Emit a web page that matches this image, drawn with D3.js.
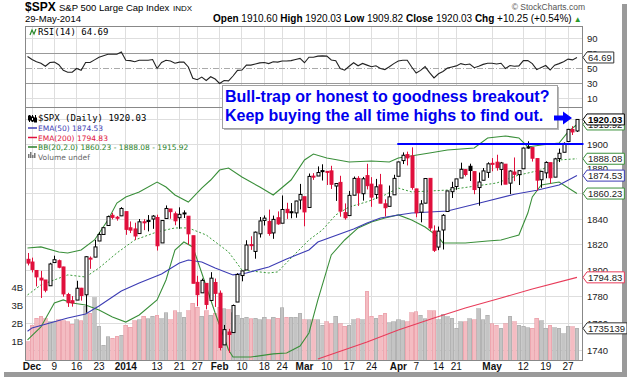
<!DOCTYPE html>
<html>
<head>
<meta charset="utf-8">
<script src="https://cdn.jsdelivr.net/npm/d3@7"></script>
<style>
  body { margin: 0; background: #fff; }
  svg { display: block; font-family: "Liberation Sans", Arial, sans-serif; }
</style>
</head>
<body>
<div id="chart"></div>
<script>
// trading days shown on the chart
var dates = ["2013-11-29",
  "2013-12-02","2013-12-03","2013-12-04","2013-12-05","2013-12-06","2013-12-09","2013-12-10","2013-12-11","2013-12-12","2013-12-13",
  "2013-12-16","2013-12-17","2013-12-18","2013-12-19","2013-12-20","2013-12-23","2013-12-24","2013-12-26","2013-12-27","2013-12-30","2013-12-31",
  "2014-01-02","2014-01-03","2014-01-06","2014-01-07","2014-01-08","2014-01-09","2014-01-10","2014-01-13","2014-01-14","2014-01-15","2014-01-16","2014-01-17",
  "2014-01-21","2014-01-22","2014-01-23","2014-01-24","2014-01-27","2014-01-28","2014-01-29","2014-01-30","2014-01-31",
  "2014-02-03","2014-02-04","2014-02-05","2014-02-06","2014-02-07","2014-02-10","2014-02-11","2014-02-12","2014-02-13","2014-02-14",
  "2014-02-18","2014-02-19","2014-02-20","2014-02-21","2014-02-24","2014-02-25","2014-02-26","2014-02-27","2014-02-28",
  "2014-03-03","2014-03-04","2014-03-05","2014-03-06","2014-03-07","2014-03-10","2014-03-11","2014-03-12","2014-03-13","2014-03-14",
  "2014-03-17","2014-03-18","2014-03-19","2014-03-20","2014-03-21","2014-03-24","2014-03-25","2014-03-26","2014-03-27","2014-03-28",
  "2014-03-31","2014-04-01","2014-04-02","2014-04-03","2014-04-04","2014-04-07","2014-04-08","2014-04-09","2014-04-10","2014-04-11",
  "2014-04-14","2014-04-15","2014-04-16","2014-04-17","2014-04-21","2014-04-22","2014-04-23","2014-04-24","2014-04-25",
  "2014-04-28","2014-04-29","2014-04-30","2014-05-01","2014-05-02","2014-05-05","2014-05-06","2014-05-07","2014-05-08","2014-05-09",
  "2014-05-12","2014-05-13","2014-05-14","2014-05-15","2014-05-16","2014-05-19","2014-05-20","2014-05-21","2014-05-22","2014-05-23",
  "2014-05-27","2014-05-28","2014-05-29"];

var open = [1808.7,
  1806.6,1800.1,1794.2,1792.8,1788.4,1806.2,1807.6,1802.8,1781.7,1777.0,
  1777.5,1786.5,1781.5,1809.0,1810.4,1822.9,1828.0,1835.0,1843.0,1841.5,1842.6,
  1845.9,1833.2,1832.3,1828.7,1837.9,1839.0,1840.1,1841.3,1821.4,1840.5,1848.0,1844.2,
  1841.1,1844.7,1842.3,1827.0,1791.0,1783.0,1790.2,1777.2,1790.9,
  1782.7,1743.8,1753.4,1753.0,1776.0,1796.2,1800.5,1820.1,1814.8,1828.5,
  1839.0,1838.2,1829.2,1841.1,1836.8,1847.7,1845.8,1844.9,1855.1,
  1857.7,1849.2,1874.1,1874.2,1878.5,1877.9,1878.3,1866.2,1869.1,1845.1,
  1842.8,1858.9,1872.3,1860.1,1874.5,1867.7,1859.5,1867.1,1852.1,1850.1,
  1859.2,1874.0,1886.6,1891.4,1890.3,1863.9,1845.5,1852.6,1872.3,1830.7,
  1818.2,1831.5,1846.0,1861.7,1865.8,1872.6,1879.3,1882.0,1877.7,
  1865.0,1870.8,1877.1,1884.4,1885.3,1879.5,1883.7,1868.5,1877.4,1875.3,
  1880.0,1896.8,1897.1,1888.2,1871.2,1876.7,1884.9,1873.3,1888.2,1893.3,
  1902.0,1911.8,1910.6];
var high = [1813.6,
  1810.0,1800.1,1799.8,1792.8,1806.0,1811.5,1808.5,1803.0,1783.0,1780.6,
  1792.2,1786.8,1811.1,1810.9,1823.8,1829.8,1833.3,1842.8,1844.9,1842.5,1849.4,
  1845.9,1838.2,1837.2,1840.1,1840.0,1843.2,1843.2,1843.5,1839.3,1850.8,1848.0,1846.0,
  1849.3,1846.9,1842.3,1827.0,1796.0,1793.9,1790.2,1798.8,1793.9,
  1784.8,1758.7,1755.8,1774.1,1798.0,1799.9,1823.5,1826.6,1830.3,1841.7,
  1842.9,1847.5,1842.8,1846.1,1858.7,1852.9,1852.7,1854.5,1867.9,
  1857.7,1876.2,1876.5,1881.9,1883.6,1877.9,1882.4,1868.4,1874.4,1852.4,
  1862.3,1873.8,1874.1,1873.5,1884.0,1873.3,1871.9,1875.9,1855.6,1866.6,
  1875.2,1885.8,1893.2,1893.8,1897.3,1864.0,1855.0,1872.4,1872.5,1835.1,
  1834.2,1844.0,1862.3,1869.6,1871.9,1884.9,1879.8,1884.1,1877.7,
  1877.0,1880.6,1885.2,1888.6,1891.3,1885.5,1883.7,1878.8,1889.1,1878.6,
  1897.1,1902.2,1897.1,1888.2,1878.3,1886.0,1884.9,1888.8,1896.3,1901.3,
  1912.3,1914.5,1920.03];
var low = [1804.0,
  1798.6,1787.9,1779.1,1783.4,1788.4,1806.2,1801.8,1780.1,1772.3,1772.5,
  1777.5,1777.1,1768.0,1801.4,1810.3,1822.9,1828.0,1835.0,1839.8,1838.8,1842.4,
  1827.7,1829.1,1823.7,1828.7,1831.4,1830.4,1832.4,1815.5,1821.4,1840.5,1840.3,1835.2,
  1832.4,1840.9,1820.1,1790.3,1772.9,1783.0,1770.5,1777.2,1772.3,
  1739.7,1743.8,1737.9,1753.0,1776.0,1791.8,1800.4,1816.0,1809.2,1825.6,
  1835.0,1827.0,1824.6,1835.6,1836.8,1840.2,1840.7,1841.1,1847.7,
  1834.4,1849.2,1871.1,1874.2,1870.6,1867.0,1863.9,1854.4,1841.9,1839.6,
  1842.8,1858.9,1850.4,1854.6,1863.5,1849.7,1856.0,1852.6,1842.1,1850.1,
  1859.2,1874.0,1883.8,1882.7,1863.3,1841.5,1837.5,1852.4,1830.9,1814.4,
  1815.8,1816.3,1846.0,1856.7,1863.2,1872.6,1873.9,1870.2,1859.7,
  1850.6,1870.8,1872.7,1878.0,1878.5,1866.8,1867.7,1859.8,1870.1,1867.0,
  1880.0,1896.1,1885.8,1862.4,1864.8,1872.4,1868.1,1873.3,1885.4,1893.3,
  1902.0,1907.3,1909.82];
var close = [1805.8,
  1800.9,1795.2,1792.8,1785.0,1805.1,1808.4,1802.6,1782.2,1775.5,1775.3,
  1786.5,1781.0,1810.7,1809.6,1818.3,1828.0,1833.3,1842.0,1841.4,1841.1,1848.4,
  1832.0,1831.4,1826.8,1837.9,1837.5,1838.1,1842.4,1819.2,1838.9,1848.4,1845.9,1838.7,
  1843.8,1844.9,1828.5,1790.3,1781.6,1792.5,1774.2,1794.2,1782.6,
  1741.9,1755.2,1751.6,1773.4,1797.0,1799.8,1819.8,1819.3,1829.8,1838.6,
  1840.8,1828.8,1839.8,1836.3,1847.6,1845.1,1845.2,1854.3,1859.5,
  1845.7,1873.9,1873.8,1877.0,1878.0,1877.2,1867.6,1868.2,1846.3,1841.1,
  1858.8,1872.3,1860.8,1872.0,1866.5,1857.4,1865.6,1852.6,1849.0,1857.6,
  1872.3,1885.5,1890.9,1888.8,1865.1,1845.0,1852.0,1872.2,1833.1,1815.7,
  1830.6,1843.0,1862.3,1864.9,1871.9,1879.6,1875.4,1878.6,1863.4,
  1869.4,1878.3,1884.0,1883.7,1881.1,1884.7,1867.7,1878.2,1875.6,1878.5,
  1896.7,1897.5,1888.5,1870.9,1877.9,1885.1,1872.8,1888.0,1892.5,1900.5,
  1911.9,1909.8,1920.03];
var prevClose = 1807.2;   // close before the first bar

// volume, billions of shares
var volume = [1.0,
  1.9,2.3,2.4,2.27,2.1,2.1,2.2,2.15,2.1,1.95,
  2.2,2.15,2.95,2.55,3.4,1.85,0.8,1.27,1.2,1.3,1.35,
  1.9,1.8,2.15,2.2,2.4,2.27,2.4,2.45,2.27,2.6,2.2,2.7,
  2.6,2.35,2.7,3.1,2.9,2.4,2.7,2.45,2.55,
  2.9,2.8,2.75,2.6,2.45,2.3,2.35,2.27,2.3,2.2,
  2.35,2.2,2.35,2.3,2.85,2.35,2.35,2.35,2.55,
  2.2,2.2,2.2,2.2,1.9,2.1,2.0,2.4,2.0,1.85,
  1.9,2.2,2.27,2.2,3.78,2.4,2.3,2.45,2.55,2.04,
  2.1,2.2,2.15,2.1,2.6,2.65,2.45,2.27,2.7,2.7,
  2.2,2.5,2.36,2.3,1.73,2.1,2.1,2.27,2.2,
  2.8,2.2,2.45,2.0,1.9,1.73,2.0,2.4,2.1,1.9,
  1.85,1.78,1.73,2.3,2.15,1.73,1.9,1.78,1.73,1.45,
  1.85,1.82,1.735];

var rsi = [66,
  62,59,57,53,58,58.5,55,47.5,45,45,
  50,47.5,58,58,61.5,65,67,69,69,69,72,
  61,60.5,59,61,61,61,62,50,58,61,60,57,
  58.5,58.5,52,37,35,38.5,34,39,36,
  30,34,33.5,40,47.5,48,54.5,54.5,56,57.5,
  58,56.5,59,58.5,60,60,60.5,62,63.5,
  57.7,65,65,66.5,66.8,66.5,61.4,60.4,50,47.7,
  53,57.7,53.6,56.8,54.5,52.3,53.6,50,48.6,52.3,
  56.5,60,61,61,52,44,47.5,52.5,44.5,37.5,
  43,46,50.5,52,53.5,56.5,55,56,51,
  53,55.5,57,57,56,57,50,54,53,53.5,
  60.5,60.5,56.5,48.5,51.5,54,48,54.5,56.5,59,
  62.5,61.5,64.69];

// overlays: [date, value]
var ema50 = [["2013-11-29",1754],["2013-12-02",1756.5],["2013-12-12",1764],["2013-12-18",1767],["2013-12-23",1773],
  ["2013-12-31",1784.4],["2014-01-07",1790.5],["2014-01-14",1797.4],["2014-01-21",1805.9],["2014-01-23",1808.2],
  ["2014-01-28",1806.6],["2014-01-31",1802],["2014-02-06",1796.7],["2014-02-11",1798.2],["2014-02-19",1802.8],
  ["2014-02-25",1809],["2014-03-04",1815.9],["2014-03-06",1822.1],["2014-03-18",1832.3],["2014-03-21",1837],
  ["2014-03-26",1840.9],["2014-04-01",1843.3],["2014-04-04",1844.8],["2014-04-16",1846.4],["2014-04-28",1852.6],
  ["2014-05-08",1859.7],["2014-05-15",1862.9],["2014-05-22",1867],["2014-05-29",1874.53]];
var ema200 = [["2014-03-06",1733.3],["2014-03-21",1746],["2014-04-01",1755],["2014-04-11",1763.9],["2014-04-23",1771.5],
  ["2014-05-05",1779.1],["2014-05-14",1785.9],["2014-05-29",1794.83]];
var bbUpper = [["2013-11-29",1817.5],["2013-12-04",1818.3],["2013-12-10",1814.4],["2013-12-12",1813.6],["2013-12-17",1815.9],
  ["2013-12-20",1823.7],["2013-12-26",1839.3],["2013-12-30",1852.7],["2014-01-02",1857.5],["2014-01-07",1861.5],
  ["2014-01-13",1869.4],["2014-01-15",1865.4],["2014-01-17",1859.1],["2014-01-23",1853.5],["2014-01-28",1864.6],
  ["2014-01-30",1871],["2014-02-03",1879],["2014-02-05",1880.6],["2014-02-10",1873.4],["2014-02-14",1865.4],
  ["2014-02-20",1859.1],["2014-02-26",1871],["2014-03-03",1887.1],["2014-03-05",1891.9],["2014-03-10",1888.7],
  ["2014-03-17",1885.5],["2014-03-24",1886.3],["2014-03-28",1885.5],["2014-04-01",1888.7],["2014-04-10",1892.7],
  ["2014-04-16",1895.1],["2014-04-25",1896.8],["2014-04-30",1904.9],["2014-05-06",1906.5],["2014-05-09",1904.9],
  ["2014-05-13",1897.6],["2014-05-16",1899.2],["2014-05-22",1900.8],["2014-05-27",1909.8],["2014-05-29",1915.92]];
var bbMid = [["2013-11-29",1781.4],["2013-12-04",1789],["2013-12-12",1796.7],["2013-12-18",1795.1],["2013-12-23",1802],
  ["2013-12-30",1813.6],["2014-01-06",1823.7],["2014-01-13",1830],["2014-01-17",1833.1],["2014-01-23",1833.1],
  ["2014-01-29",1827.6],["2014-02-05",1814.4],["2014-02-10",1800.5],["2014-02-19",1798.2],["2014-02-21",1799],
  ["2014-02-26",1809.7],["2014-03-04",1823.7],["2014-03-07",1831.5],["2014-03-12",1843.3],["2014-03-17",1849.6],
  ["2014-03-21",1853.7],["2014-03-27",1859.1],["2014-04-01",1864.6],["2014-04-04",1861.5],["2014-04-16",1863],
  ["2014-05-02",1868.6],["2014-05-09",1875],["2014-05-16",1879],["2014-05-22",1887.1],["2014-05-29",1888.08]];
var bbLower = [["2013-11-29",1747.5],["2013-12-04",1757.2],["2013-12-09",1775.3],["2013-12-11",1777.6],["2013-12-13",1775.3],
  ["2013-12-18",1773.8],["2013-12-23",1770],["2013-12-27",1764.7],["2014-01-02",1760.9],["2014-01-07",1766.2],
  ["2014-01-13",1777.6],["2014-01-15",1792.8],["2014-01-17",1815.9],["2014-01-22",1822.1],["2014-01-24",1818.3],
  ["2014-01-28",1798.2],["2014-01-31",1767.7],["2014-02-05",1740],["2014-02-06",1734.8],["2014-02-12",1734.8],
  ["2014-02-20",1737.1],["2014-02-25",1737.8],["2014-02-28",1743],["2014-03-04",1752.7],["2014-03-06",1777.6],
  ["2014-03-11",1812.1],["2014-03-14",1823.7],["2014-03-19",1833.1],["2014-03-24",1837.8],["2014-03-27",1840.9],
  ["2014-04-01",1843.3],["2014-04-04",1839.3],["2014-04-09",1833.8],["2014-04-14",1826],["2014-04-15",1821.4],
  ["2014-04-23",1821.4],["2014-04-30",1822.9],["2014-05-05",1823.7],["2014-05-09",1827.6],["2014-05-13",1844.8],
  ["2014-05-14",1857.5],["2014-05-16",1867],["2014-05-22",1869.4],["2014-05-29",1860.23]];

var tickDates = ["2013-12-02","2013-12-09","2013-12-16","2013-12-23","2014-01-02","2014-01-13","2014-01-21","2014-01-27",
  "2014-02-03","2014-02-10","2014-02-18","2014-02-24","2014-03-03","2014-03-10","2014-03-17","2014-03-24",
  "2014-04-01","2014-04-07","2014-04-14","2014-04-21","2014-05-01","2014-05-12","2014-05-19","2014-05-27"];
var tickLabels = ["Dec","9","16","23","2014","13","21","27","Feb","10","18","24","Mar","10","17","24","Apr","7","14","21","May","12","19","27"];
var priceGrid = [1740,1760,1780,1800,1820,1840,1860,1880,1900,1920];
var priceLabels = [1740,1760,1780,1800,1820,1840,1880,1900];   // 1860 and 1920 sit under value tags
var rsiTicks = [90,70,50,30,10];
var volTicks = [1,2,3,4];

var width = 627, height = 377;
var left = 25.5, right = 582.5;
var rsiTop = 26.5, rsiBot = 107.5, mainTop = 107.5, mainBot = 360.5;

var svg = d3.select("#chart").append("svg")
    .attr("width", width)
    .attr("height", height);

var x = d3.scaleBand().domain(dates).range([25.3, 579.2]);
var cx = function(d) { return x(d) + x.bandwidth() / 2; };
var y = d3.scaleLog().domain([1900, 1740]).range([144, 350]);
var yv = d3.scaleLinear().domain([0, 4]).range([360, 287]);
var yr = d3.scaleLinear().domain([90, 10]).range([38.5, 98.5]);

svg.append("clipPath").attr("id", "clipMain")
  .append("rect").attr("x", left).attr("y", mainTop).attr("width", right - left).attr("height", mainBot - mainTop);

// frame shadow
svg.append("rect").attr("x", 4).attr("y", 372).attr("width", 623).attr("height", 5).attr("fill", "#9a9a9a");
svg.append("rect").attr("x", 622).attr("y", 4).attr("width", 5).attr("height", 373).attr("fill", "#9a9a9a");
svg.append("rect").attr("x", 0).attr("y", 0).attr("width", 622).attr("height", 372).attr("fill", "#fff");

// grid
var grid = svg.append("g").attr("stroke", "#dedede").attr("shape-rendering", "crispEdges");
tickDates.forEach(function(d) {
  grid.append("line").attr("x1", cx(d)).attr("x2", cx(d)).attr("y1", rsiTop).attr("y2", mainBot);
});
priceGrid.forEach(function(p) {
  grid.append("line").attr("x1", left).attr("x2", right).attr("y1", y(p)).attr("y2", y(p));
});
[90, 10].forEach(function(v) {
  grid.append("line").attr("x1", left).attr("x2", right).attr("y1", yr(v)).attr("y2", yr(v));
});
svg.append("g").attr("stroke", "#999").attr("shape-rendering", "crispEdges")
  .selectAll("line").data([70, 30]).enter().append("line")
  .attr("x1", left).attr("x2", right).attr("y1", function(v) { return yr(v); }).attr("y2", function(v) { return yr(v); });
svg.append("line").attr("x1", left).attr("x2", right).attr("y1", yr(50)).attr("y2", yr(50))
  .attr("stroke", "#aaa").attr("stroke-dasharray", "6,2,1,2").attr("shape-rendering", "crispEdges");

// volume
var vbw = x.bandwidth() * 0.82;
svg.append("g").attr("shape-rendering", "crispEdges").selectAll("rect").data(dates).enter().append("rect")
  .attr("x", function(d) { return cx(d) - vbw / 2; })
  .attr("width", vbw)
  .attr("y", function(d, i) { return yv(volume[i]); })
  .attr("height", function(d, i) { return yv(0) - yv(volume[i]); })
  .attr("fill", function(d, i) { return close[i] < (i ? close[i - 1] : prevClose) ? "#f4bcc2" : "#c4c4c4"; })
  .attr("stroke", function(d, i) { return close[i] < (i ? close[i - 1] : prevClose) ? "#e89aa3" : "#a8a8a8"; })
  .attr("stroke-width", 0.6);

// overlays
var line = d3.line().x(function(d) { return cx(d[0]); }).y(function(d) { return y(d[1]); });
var ov = svg.append("g").attr("clip-path", "url(#clipMain)").attr("fill", "none");
ov.append("path").attr("d", line(bbUpper)).attr("stroke", "#3a8f3a").attr("stroke-width", 1.1);
ov.append("path").attr("d", line(bbLower)).attr("stroke", "#3a8f3a").attr("stroke-width", 1.1);
ov.append("path").attr("d", line(bbMid)).attr("stroke", "#3a9a3a").attr("stroke-dasharray", "2,2");
ov.append("path").attr("d", line(ema50)).attr("stroke", "#3c3cb4").attr("stroke-width", 1.1);
ov.append("path").attr("d", line(ema200)).attr("stroke", "#e83c5a").attr("stroke-width", 1.1);

// candles
var cg = svg.append("g");
dates.forEach(function(d, i) {
  var pc = i ? close[i - 1] : prevClose;
  var col = close[i] < pc ? "#e0103c" : "#000";
  var c = Math.round(cx(d)) + 0.5;
  cg.append("line").attr("x1", c).attr("x2", c).attr("y1", y(high[i])).attr("y2", y(low[i])).attr("stroke", col);
  var top = y(Math.max(open[i], close[i])), bot = y(Math.min(open[i], close[i]));
  cg.append("rect").attr("x", c - 1.5).attr("width", 3).attr("y", top).attr("height", Math.max(1, bot - top))
    .attr("fill", close[i] > open[i] ? "#fff" : col).attr("stroke", col).attr("stroke-width", 1);
});

// RSI line
var rline = d3.line().x(function(d, i) { return cx(dates[i]); }).y(function(d) { return yr(d); });
svg.append("path").attr("d", rline(rsi)).attr("fill", "none").attr("stroke", "#222").attr("stroke-width", 1.1);

// panel borders
svg.append("g").attr("fill", "none").attr("stroke", "#888").attr("shape-rendering", "crispEdges")
  .call(function(g) {
    g.append("rect").attr("x", left).attr("y", rsiTop).attr("width", right - left).attr("height", rsiBot - rsiTop);
    g.append("rect").attr("x", left).attr("y", mainTop).attr("width", right - left).attr("height", mainBot - mainTop);
  });

// breakout line
svg.append("line").attr("x1", cx("2014-04-01") - 1).attr("x2", right + 1).attr("y1", y(1900)).attr("y2", y(1900))
  .attr("stroke", "#0000ff").attr("stroke-width", 2);

// x axis labels
var bold = ["Dec", "2014", "Feb", "Mar", "Apr", "May"];
svg.append("g").selectAll("text").data(tickDates).enter().append("text")
  .attr("x", function(d) { return cx(d); }).attr("y", 370).attr("text-anchor", "middle")
  .attr("font-size", 10).attr("fill", "#111")
  .attr("font-weight", function(d, i) { return bold.indexOf(tickLabels[i]) >= 0 ? "bold" : "normal"; })
  .text(function(d, i) { return tickLabels[i]; });

// right axis labels
var ax = svg.append("g").attr("font-size", 9.5).attr("fill", "#222");
priceLabels.forEach(function(p) { ax.append("text").attr("x", 587).attr("y", y(p) + 3.5).text(p); });
rsiTicks.forEach(function(v) { ax.append("text").attr("x", 587).attr("y", yr(v) + 3.5).text(v); });
volTicks.forEach(function(v) {
  svg.append("text").attr("x", 23).attr("y", yv(v) + 3.5).attr("text-anchor", "end")
    .attr("font-size", 9.5).attr("fill", "#222").text(v + "B");
});

function tag(yy, txt, col, isBold) {
  var g = svg.append("g");
  var p = g.append("path").attr("fill", "#fff").attr("stroke", col);
  var t = g.append("text").attr("x", 588).attr("y", yy + 3.5).attr("font-size", 9.5)
    .attr("font-weight", isBold ? "bold" : "normal").attr("fill", isBold ? "#000" : "#222").text(txt);
  var w = t.node().getComputedTextLength() + 3;
  p.attr("d", "M583," + yy + "L587," + (yy - 5.5) + "H" + (587 + w) + "V" + (yy + 5.5) + "H587Z");
}
tag(yr(64.69), "64.69", "#333", false);
tag(y(1915.92), "1915.92", "#3a8f3a", false);
tag(y(1920.03), "1920.03", "#000", true);
tag(y(1888.08), "1888.08", "#3a8f3a", false);
tag(y(1874.53), "1874.53", "#3c3cb4", false);
tag(y(1860.23), "1860.23", "#3a8f3a", false);
tag(y(1794.83), "1794.83", "#e83c5a", false);
tag(yv(1.735139), "1735139", "#333", false);

// header
svg.append("text").attr("x", 25).attr("y", 11).attr("font-size", 12).attr("font-weight", "bold").text("$SPX");
svg.append("text").attr("x", 59).attr("y", 10.5).attr("font-size", 9.5).text("S&P 500 Large Cap Index");
svg.append("text").attr("x", 173).attr("y", 10.5).attr("font-size", 8).text("INDX");
svg.append("text").attr("x", 25).attr("y", 22).attr("font-size", 9.5).text("29-May-2014");
svg.append("text").attr("x", 585).attr("y", 10).attr("font-size", 8.5).attr("fill", "#555").attr("text-anchor", "end")
  .text("\u00a9 StockCharts.com");
var hd = svg.append("text").attr("x", 213).attr("y", 22).attr("font-size", 10);
[["Open", "1910.60"], ["High", "1920.03"], ["Low", "1909.82"], ["Close", "1920.03"], ["Chg", "+10.25 (+0.54%)"]].forEach(function(p, i) {
  hd.append("tspan").attr("font-weight", "bold").text((i ? " " : "") + p[0] + " ");
  hd.append("tspan").text(p[1]);
});
hd.append("tspan").attr("fill", "#2a9a2a").attr("font-size", 8).text(" \u25b2");

// legends
var mono = "'DejaVu Sans Mono', monospace";
svg.append("text").attr("x", 38).attr("y", 35).attr("font-size", 9).attr("font-family", mono).text("RSI(14) 64.69");
svg.append("path").attr("d", "M30,35 L32,30 L34,34 L36,29").attr("fill", "none").attr("stroke", "#2a8a2a").attr("stroke-width", 1.2);
svg.append("text").attr("x", 38).attr("y", 121).attr("font-size", 9).attr("font-family", mono).text("$SPX (Daily) 1920.03");
svg.append("g").attr("stroke", "#000").call(function(g) {
  [29, 32, 35].forEach(function(xx, k) {
    g.append("line").attr("x1", xx + 0.5).attr("x2", xx + 0.5).attr("y1", 115).attr("y2", 122);
    g.append("rect").attr("x", xx - 0.5).attr("y", 116 + k).attr("width", 2).attr("height", 4).attr("fill", k == 1 ? "#fff" : "#000");
  });
});
var leg = [["EMA(50) 1874.53", "#3c3cb4"], ["EMA(200) 1794.83", "#e0103c"], ["BB(20,2.0) 1860.23 - 1888.08 - 1915.92", "#2a7f2a"]];
leg.forEach(function(l, i) {
  var yy = 131 + i * 9.5;
  svg.append("line").attr("x1", 28).attr("x2", 37).attr("y1", yy - 3).attr("y2", yy - 3).attr("stroke", l[1]).attr("stroke-width", 1.5);
  svg.append("text").attr("x", 38).attr("y", yy).attr("font-size", 7.5).attr("font-family", "'DejaVu Sans', sans-serif")
    .attr("fill", l[1]).text(l[0]);
});
svg.append("text").attr("x", 38).attr("y", 159.5).attr("font-size", 7.5).attr("font-family", "'DejaVu Sans', sans-serif")
  .attr("fill", "#666").text("Volume undef");
[[28, 4], [30, 6], [32, 3], [34, 5]].forEach(function(b) {
  svg.append("rect").attr("x", b[0]).attr("y", 158 - b[1]).attr("width", 1.5).attr("height", b[1]).attr("fill", "#777");
});

// annotation
svg.append("rect").attr("x", 224).attr("y", 87).attr("width", 335).attr("height", 43).attr("fill", "#b8b8b8");
svg.append("rect").attr("x", 222.5).attr("y", 85.5).attr("width", 335).attr("height", 43).attr("fill", "#fff").attr("stroke", "#a0a0a0");
svg.append("text").attr("x", 225).attr("y", 102).attr("font-size", 16).attr("font-weight", "bold").attr("fill", "#0000ee")
  .text("Bull-trap or honest to goodness breakout?");
svg.append("text").attr("x", 225).attr("y", 121).attr("font-size", 16).attr("font-weight", "bold").attr("fill", "#0000ee")
  .text("Keep buying the all time highs to find out.");

// arrow
svg.append("path").attr("d", "M554,115.5 H563 V111.5 L572,118 L563,124.5 V120.5 H554 Z").attr("fill", "#0000ff");
</script>
</body>
</html>
